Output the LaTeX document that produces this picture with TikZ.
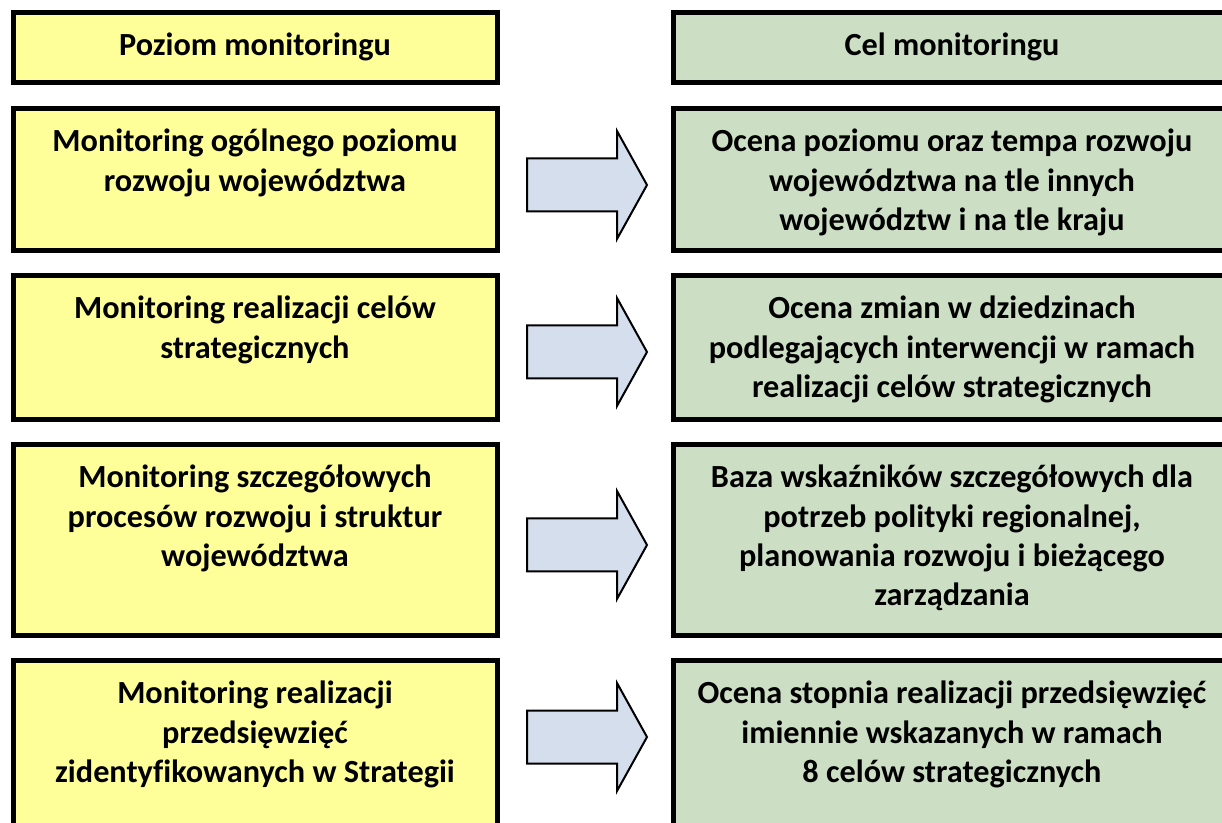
\documentclass[tikz,border=0pt]{standalone}
\usepackage{fontspec}
\setmainfont{Carlito}[Ligatures=NoCommon]
\usetikzlibrary{positioning}

\definecolor{poziom}{HTML}{FFFF99}
\definecolor{cel}{HTML}{CCDFC5}
\definecolor{strzalka}{HTML}{D5DEEC}

\tikzset{
  box/.style={draw=black, line width=3.75pt, outer sep=0pt, inner sep=0pt, minimum width=363pt},
  lbox/.style={box, fill=poziom},
  rbox/.style={box, fill=cel, minimum width=417.75pt},
  txt/.style={font=\bfseries\fontsize{24.2}{29.4}\selectfont, align=center, inner sep=0pt},
  blockarrow/.pic={
    \draw[fill=strzalka, line width=1.5pt, line join=miter]
      (-60,-26.5) -- (30,-26.5) -- (30,-54) -- (60,0) -- (30,54) -- (30,26.5) -- (-60,26.5) -- cycle;
  }
}

\begin{document}
\begin{tikzpicture}[x=0.75pt,y=-0.75pt]
\clip (0,0) rectangle (1222,823);

\node[lbox, minimum height=52.875pt] (l0) at (255,47.75) {};
\node[rbox, minimum height=52.875pt] (r0) at (952,47.75) {};
\node[lbox, minimum height=106.875pt] (l1) at (255,179.75) {};
\node[rbox, minimum height=106.875pt] (r1) at (952,179.75) {};
\node[lbox, minimum height=108pt] (l2) at (255,347.5) {};
\node[rbox, minimum height=108pt] (r2) at (952,347.5) {};
\node[lbox, minimum height=142.875pt] (l3) at (255,539.75) {};
\node[rbox, minimum height=142.875pt] (r3) at (952,539.75) {};
\node[lbox, minimum height=135pt] (l4) at (255,750.5) {};
\node[rbox, minimum height=135pt] (r4) at (952,750.5) {};

\node[txt, below=15.3pt of l0.north] (tl0) {Poziom monitoringu};
\node[txt, below=15.3pt of r0.north] (tr0) {Cel monitoringu};

\node[txt, below=15.3pt of l1.north] (tl1) {Monitoring ogólnego poziomu\\rozwoju województwa};
\node[txt, below=15.3pt of r1.north] (tr1) {Ocena poziomu oraz tempa rozwoju\\województwa na tle innych\\województw i na tle kraju};

\node[txt, below=15.3pt of l2.north] (tl2) {Monitoring realizacji celów\\strategicznych};
\node[txt, below=15.3pt of r2.north] (tr2) {Ocena zmian w dziedzinach\\podlegających interwencji w ramach\\realizacji celów strategicznych};

\node[txt, below=15.3pt of l3.north] (tl3) {Monitoring szczegółowych\\procesów rozwoju i struktur\\województwa};
\node[txt, below=15.3pt of r3.north] (tr3) {Baza wskaźników szczegółowych dla\\potrzeb polityki regionalnej,\\planowania rozwoju i bieżącego\\zarządzania};

\node[txt, below=15.3pt of l4.north] (tl4) {Monitoring realizacji\\przedsięwzięć\\zidentyfikowanych w Strategii};
\node[txt, below=15.3pt of r4.north] (tr4) {Ocena stopnia realizacji przedsięwzięć\\imiennie wskazanych w ramach\\8 celów strategicznych};

% strzalki
\coordinate (s1) at (587,185);
\coordinate (s2) at (587,352);
\coordinate (s3) at (587,545);
\coordinate (s4) at (587,737);
\pic at (s1) {blockarrow};
\pic at (s2) {blockarrow};
\pic at (s3) {blockarrow};
\pic at (s4) {blockarrow};
\end{tikzpicture}
\end{document}
